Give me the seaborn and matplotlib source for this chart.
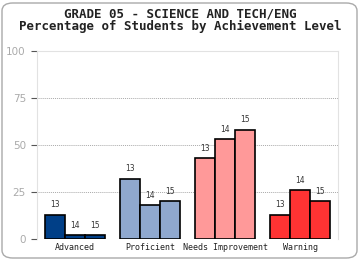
import matplotlib
matplotlib.use("Agg")
import matplotlib.pyplot as plt
import seaborn as sns
import pandas as pd
from matplotlib.patches import FancyBboxPatch

categories = ["Advanced", "Proficient", "Needs Improvement", "Warning"]
years = ["13", "14", "15"]
vals_13 = [13, 32, 43, 13]
vals_14 = [2, 18, 53, 26]
vals_15 = [2, 20, 58, 20]
cat_colors = ["#003F87", "#8FA8CE", "#FF9999", "#FF3333"]
yticks = [0, 25, 50, 75, 100]

rows = []
for y, vals in zip(years, [vals_13, vals_14, vals_15]):
    for c, v in zip(categories, vals):
        rows.append({"cat": c, "year": y, "pct": v})
df = pd.DataFrame(rows)

sns.set_theme(style="white")
plt.rcParams["font.family"] = ["DejaVu Sans Mono", "DejaVu Sans"]

fig = plt.figure(figsize=(3.6, 2.6), dpi=100)
ax = fig.add_axes([37/360, 21/260, 301/360, 188/260])

sns.barplot(data=df, x="cat", y="pct", hue="year", order=categories,
            hue_order=years, width=0.8, ax=ax, legend=False,
            edgecolor="black", linewidth=1.2, palette=["#888888"] * 3)

for y, cont in zip(years, ax.containers):
    for i, p in enumerate(cont.patches):
        p.set_facecolor(cat_colors[i])
    ax.bar_label(cont, labels=[y] * len(cont.patches), padding=4,
                 fontsize=5.5, color="#333333", family="DejaVu Sans")

ax.set_xlim(-0.5, 3.5)
ax.set_ylim(0, 100)
ax.set_yticks(yticks)
ax.set_yticklabels([str(t) for t in yticks], family="DejaVu Sans", fontsize=7.5, color="#AAAAAA")
ax.tick_params(axis="y", length=4, width=0.8, color="#555555", pad=4, left=True)
ax.tick_params(axis="x", length=0, pad=3, labelsize=6, labelcolor="#222222")
ax.set_xlabel("")
ax.set_ylabel("")
for t in [25, 50, 75]:
    ax.axhline(t, color="#AAAAAA", linestyle=(0, (1, 1)), linewidth=0.7, zorder=0)
for s in ["left", "right", "top"]:
    ax.spines[s].set_color("#E2E2E2")
    ax.spines[s].set_linewidth(0.8)
ax.spines["bottom"].set_visible(False)
ax.set_axisbelow(True)

fig.text(0.5, 1 - 14/260, "GRADE 05 - SCIENCE AND TECH/ENG", ha="center", va="center",
         fontsize=9, fontweight="bold", color="#222222")
fig.text(0.5, 1 - 26/260, "Percentage of Students by Achievement Level", ha="center", va="center",
         fontsize=9, fontweight="bold", color="#222222")

border = FancyBboxPatch((2/360, 2/260), 355/360, 255/260, transform=fig.transFigure,
                        boxstyle="round,pad=0,rounding_size=0.03", facecolor="none",
                        edgecolor="#AAAAAA", linewidth=1.0)
fig.patches.append(border)

fig.savefig("out.png", dpi=100)
